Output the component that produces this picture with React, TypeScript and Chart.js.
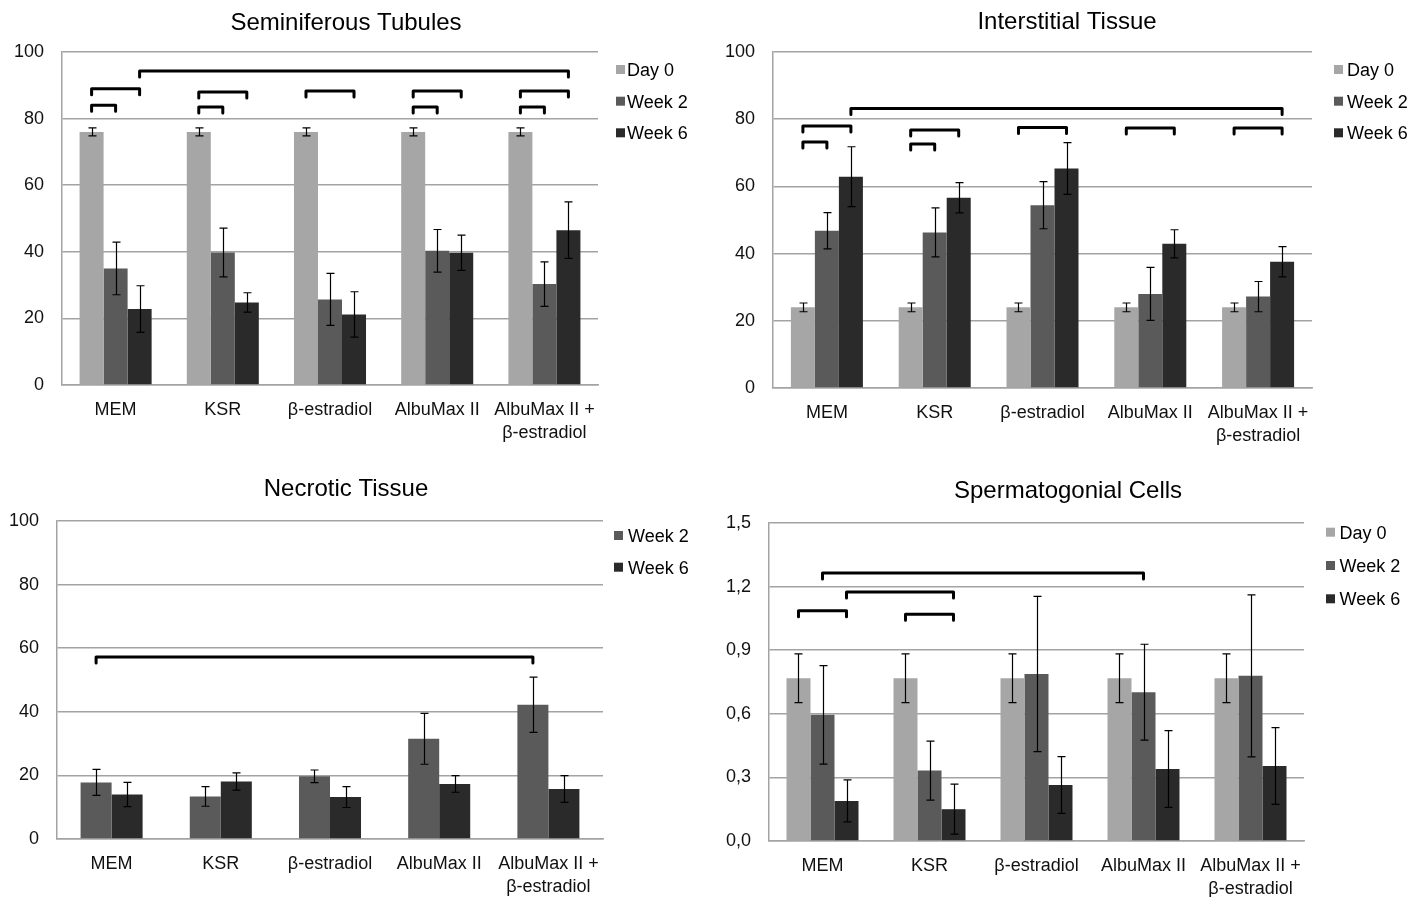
import React, { useEffect, useRef } from 'react';
import { Chart, registerables } from 'chart.js';

Chart.register(...registerables);

const FONT = '"Liberation Sans", Arial, Helvetica, sans-serif';
const GRID = '#a3a3a3';

// ---------- shared ----------
const categories: (string | string[])[] = ['MEM', 'KSR', 'β-estradiol', 'AlbuMax II', ['AlbuMax II +', 'β-estradiol']];
const SERIES_COLORS: Record<string, string> = { 'Day 0': '#a6a6a6', 'Week 2': '#5a5a5a', 'Week 6': '#2a2a2a' };

// ---------- Seminiferous Tubules ----------
const stDay0 = [76, 76, 76, 76, 76];
const stDay0Err = [1.2, 1.2, 1.2, 1.2, 1.2];
const stWeek2 = [35.0, 39.8, 25.7, 40.3, 30.3];
const stWeek2Err = [7.9, 7.3, 7.8, 6.4, 6.7];
const stWeek6 = [22.8, 24.8, 21.2, 39.7, 46.5];
const stWeek6Err = [7.0, 2.9, 6.8, 5.3, 8.5];
// [category, series, category, series, y-value]
const stBrackets = [
  [0, 0, 0, 1, 84], [0, 0, 0, 2, 89],
  [1, 0, 1, 1, 83.5], [1, 0, 1, 2, 88],
  [2, 0, 2, 2, 88.3],
  [3, 0, 3, 1, 83.5], [3, 0, 3, 2, 88.3],
  [4, 0, 4, 1, 83.5], [4, 0, 4, 2, 88.3],
  [0, 2, 4, 2, 94.3],
];

// ---------- Interstitial Tissue ----------
const itDay0 = [24, 24, 24, 24, 24];
const itDay0Err = [1.3, 1.3, 1.3, 1.3, 1.3];
const itWeek2 = [46.8, 46.3, 54.4, 28.0, 27.2];
const itWeek2Err = [5.4, 7.3, 7.0, 7.9, 4.5];
const itWeek6 = [62.9, 56.6, 65.3, 42.9, 37.6];
const itWeek6Err = [8.9, 4.5, 7.7, 4.2, 4.5];
const itBrackets = [
  [0, 0, 0, 1, 73.2], [0, 0, 0, 2, 78],
  [1, 0, 1, 1, 72.6], [1, 0, 1, 2, 76.8],
  [2, 0, 2, 2, 77.5],
  [3, 0, 3, 2, 77.4],
  [4, 0, 4, 2, 77.4],
  [0, 2, 4, 2, 83.2],
];

// ---------- Necrotic Tissue ----------
const ntWeek2 = [17.8, 13.4, 19.7, 31.5, 42.2];
const ntWeek2Err = [4.1, 3.1, 2.0, 8.0, 8.7];
const ntWeek6 = [14.0, 18.1, 13.2, 17.3, 15.7];
const ntWeek6Err = [3.8, 2.7, 3.3, 2.6, 4.2];
const ntBrackets = [[0, 0, 4, 0, 57.2]];

// ---------- Spermatogonial Cells ----------
const scDay0 = [0.768, 0.768, 0.768, 0.768, 0.768];
const scDay0Err = [0.115, 0.115, 0.115, 0.115, 0.115];
const scWeek2 = [0.595, 0.332, 0.788, 0.702, 0.779];
const scWeek2Err = [0.232, 0.139, 0.366, 0.226, 0.382];
const scWeek6 = [0.189, 0.150, 0.264, 0.340, 0.354];
const scWeek6Err = [0.099, 0.118, 0.134, 0.181, 0.181];
const scBrackets = [
  [0, 0, 0, 2, 1.086],
  [0, 2, 1, 2, 1.174],
  [1, 0, 1, 2, 1.07],
  [0, 1, 3, 1, 1.264],
];

const pctFmt = (v: number) => String(Math.round(v));
const commaFmt = (v: number) => Number(v).toFixed(1).replace('.', ',');

type Series = { name: string; data: number[]; err: number[] };
type Panel = {
  title: string;
  left: number; top: number; width: number; height: number;
  titleX: number; titleY: number;
  pad: { l: number; r: number; t: number; b: number };
  yWidth: number; xHeight: number; catPct: number;
  yMax: number; yStep: number; fmt: (v: number) => string;
  series: Series[];
  brackets: number[][];
  legend: { sqX: number; textX: number; ys: number[] };
};

const panels: Panel[] = [
  {
    title: 'Seminiferous Tubules', left: 0, top: 0, width: 714, height: 450,
    titleX: 346, titleY: 23,
    pad: { l: 0, r: 116, t: 52, b: 5 }, yWidth: 62, xHeight: 60, catPct: 0.672,
    yMax: 100, yStep: 20, fmt: pctFmt,
    series: [
      { name: 'Day 0', data: stDay0, err: stDay0Err },
      { name: 'Week 2', data: stWeek2, err: stWeek2Err },
      { name: 'Week 6', data: stWeek6, err: stWeek6Err },
    ],
    brackets: stBrackets,
    legend: { sqX: 616, textX: 627, ys: [70, 101.7, 133.3] },
  },
  {
    title: 'Interstitial Tissue', left: 714, top: 0, width: 714, height: 450,
    titleX: 353, titleY: 22,
    pad: { l: 0, r: 116, t: 52, b: 2 }, yWidth: 59, xHeight: 60, catPct: 0.668,
    yMax: 100, yStep: 20, fmt: pctFmt,
    series: [
      { name: 'Day 0', data: itDay0, err: itDay0Err },
      { name: 'Week 2', data: itWeek2, err: itWeek2Err },
      { name: 'Week 6', data: itWeek6, err: itWeek6Err },
    ],
    brackets: itBrackets,
    legend: { sqX: 620, textX: 633, ys: [70, 101.7, 133.3] },
  },
  {
    title: 'Necrotic Tissue', left: 0, top: 455, width: 714, height: 444,
    titleX: 346, titleY: 34,
    pad: { l: 0, r: 111, t: 66, b: 2 }, yWidth: 57, xHeight: 58, catPct: 0.568,
    yMax: 100, yStep: 20, fmt: pctFmt,
    series: [
      { name: 'Week 2', data: ntWeek2, err: ntWeek2Err },
      { name: 'Week 6', data: ntWeek6, err: ntWeek6Err },
    ],
    brackets: ntBrackets,
    legend: { sqX: 614, textX: 628, ys: [81, 112.7] },
  },
  {
    title: 'Spermatogonial Cells', left: 714, top: 455, width: 714, height: 444,
    titleX: 354, titleY: 36,
    pad: { l: 0, r: 124, t: 68, b: 2 }, yWidth: 55, xHeight: 56, catPct: 0.673,
    yMax: 1.5, yStep: 0.3, fmt: commaFmt,
    series: [
      { name: 'Day 0', data: scDay0, err: scDay0Err },
      { name: 'Week 2', data: scWeek2, err: scWeek2Err },
      { name: 'Week 6', data: scWeek6, err: scWeek6Err },
    ],
    brackets: scBrackets,
    legend: { sqX: 612, textX: 625.5, ys: [77.7, 111, 144.3] },
  },
];

function makeOverlay(p: Panel) {
  return {
    id: 'overlay',
    afterDatasetsDraw(chart: any) {
      const ctx = chart.ctx as CanvasRenderingContext2D;
      const ys = chart.scales.y;
      ctx.save();
      // error bars
      ctx.strokeStyle = '#000';
      ctx.lineWidth = 1.2;
      p.series.forEach((s, di) => {
        const meta = chart.getDatasetMeta(di);
        meta.data.forEach((bar: any, i: number) => {
          const x = Math.round(bar.x) + 0.5;
          const t = ys.getPixelForValue(s.data[i] + s.err[i]);
          const b = ys.getPixelForValue(s.data[i] - s.err[i]);
          ctx.beginPath();
          ctx.moveTo(x, t); ctx.lineTo(x, b);
          ctx.moveTo(x - 4, t); ctx.lineTo(x + 4, t);
          ctx.moveTo(x - 4, b); ctx.lineTo(x + 4, b);
          ctx.stroke();
        });
      });
      // significance brackets
      ctx.lineWidth = 3;
      ctx.lineJoin = 'round';
      ctx.lineCap = 'round';
      p.brackets.forEach(([c1, s1, c2, s2, v]) => {
        const x1 = chart.getDatasetMeta(s1).data[c1].x;
        const x2 = chart.getDatasetMeta(s2).data[c2].x;
        const y = ys.getPixelForValue(v);
        ctx.beginPath();
        ctx.moveTo(x1, y + 6);
        ctx.lineTo(x1, y);
        ctx.lineTo(x2, y);
        ctx.lineTo(x2, y + 6);
        ctx.stroke();
      });
      ctx.restore();
    },
    afterDraw(chart: any) {
      const ctx = chart.ctx as CanvasRenderingContext2D;
      ctx.save();
      ctx.fillStyle = '#000';
      ctx.textBaseline = 'middle';
      ctx.textAlign = 'center';
      ctx.font = `24px ${FONT}`;
      ctx.fillText(p.title, p.titleX, p.titleY);
      ctx.textAlign = 'left';
      ctx.font = `18px ${FONT}`;
      p.series.forEach((s, i) => {
        const y = p.legend.ys[i];
        ctx.fillStyle = SERIES_COLORS[s.name];
        ctx.fillRect(p.legend.sqX, y - 5, 9, 9);
        ctx.fillStyle = '#000';
        ctx.fillText(s.name, p.legend.textX, y + 1);
      });
      ctx.restore();
    },
  };
}

function PanelChart({ p }: { p: Panel }) {
  const ref = useRef<HTMLCanvasElement | null>(null);
  useEffect(() => {
    if (!ref.current) return;
    const chart = new Chart(ref.current, {
      type: 'bar',
      data: {
        labels: categories as any,
        datasets: p.series.map((s) => ({
          label: s.name,
          data: s.data,
          backgroundColor: SERIES_COLORS[s.name],
          borderWidth: 0,
          categoryPercentage: p.catPct,
          barPercentage: 1,
        })),
      },
      options: {
        responsive: false,
        animation: false,
        layout: { padding: { left: p.pad.l, right: p.pad.r, top: p.pad.t, bottom: p.pad.b } },
        plugins: {
          legend: { display: false },
          tooltip: { enabled: false },
          title: { display: false },
        },
        scales: {
          x: {
            grid: { display: false, drawTicks: false },
            border: { display: true, color: GRID, width: 1.5 },
            ticks: {
              color: '#111',
              font: { size: 18, family: FONT, lineHeight: 1.28 },
              padding: 13.5,
              maxRotation: 0,
              autoSkip: false,
            },
            afterFit: (s: any) => { s.height = p.xHeight; },
          },
          y: {
            min: 0,
            max: p.yMax,
            grid: { color: GRID, lineWidth: 1.5, drawTicks: false },
            border: { display: true, color: GRID, width: 1.5 },
            ticks: {
              stepSize: p.yStep,
              padding: 18,
              color: '#111',
              font: { size: 18, family: FONT },
              callback: (v: any) => p.fmt(Number(v)),
            },
            afterFit: (s: any) => { s.width = p.yWidth; },
          },
        },
      } as any,
      plugins: [makeOverlay(p)],
    });
    return () => chart.destroy();
  }, [p]);
  return (
    <canvas
      ref={ref}
      width={p.width}
      height={p.height}
      style={{ position: 'absolute', left: p.left, top: p.top, width: p.width, height: p.height, display: 'block' }}
    />
  );
}

export default function App() {
  return (
    <div style={{ position: 'absolute', left: 0, top: 0, width: 1428, height: 899, background: '#fff', overflow: 'hidden' }}>
      {panels.map((p) => (
        <PanelChart key={p.title} p={p} />
      ))}
    </div>
  );
}
